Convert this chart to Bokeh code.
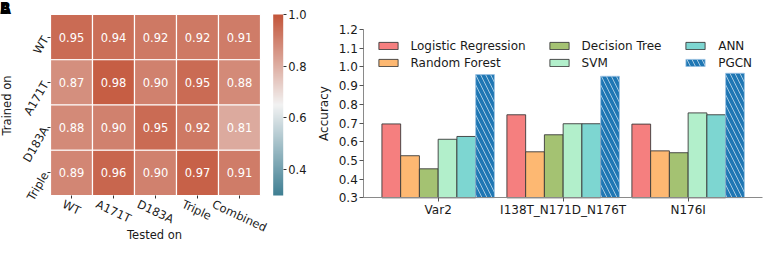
import numpy as np
from bokeh.plotting import figure
from bokeh.models import (ColumnDataSource, Range1d, LinearColorMapper, LinearAxis,
                          FixedTicker, Legend, LegendItem, Label, PrintfTickFormatter)
from bokeh.core.properties import value
from bokeh.transform import dodge, transform
from bokeh.embed import file_html
from bokeh.resources import INLINE

FONT = "DejaVu Sans"

# ---------------- data ----------------
tested_on = ["WT", "A171T", "D183A", "Triple", "Combined"]
trained_on = ["WT", "A171T", "D183A", "Triple"]
acc_wt = [0.95, 0.94, 0.92, 0.92, 0.91]
acc_a171t = [0.87, 0.98, 0.90, 0.95, 0.88]
acc_d183a = [0.88, 0.90, 0.95, 0.92, 0.81]
acc_triple = [0.89, 0.96, 0.90, 0.97, 0.91]
cbar_ticks = [0.4, 0.6, 0.8, 1.0]
cbar_low, cbar_high = 0.3, 1.0

variants = ["Var2", "I138T_N171D_N176T", "N176I"]
models = ["Logistic Regression", "Random Forest", "Decision Tree", "SVM", "ANN", "PGCN"]
lr = [0.695, 0.744, 0.694]
rf = [0.525, 0.546, 0.551]
dt = [0.455, 0.637, 0.541]
svm = [0.613, 0.696, 0.754]
ann = [0.628, 0.696, 0.744]
pgcn = [0.959, 0.950, 0.966]
y_ticks = [0.3, 0.4, 0.5, 0.6, 0.7, 0.8, 0.9, 1.0, 1.1, 1.2]

# ---------------- canvas layout (pixels inside the 764x240 frame) ----------------
W, H = 764, 240
def xr(px0, px1, v0, v1):
    k = (v1 - v0) / (px1 - px0)
    return Range1d(v0 - px0 * k, v0 + (W - px0) * k)
def yr(py0, py1, v0, v1):
    k = (v1 - v0) / (py0 - py1)
    return Range1d(v0 - (H - py0) * k, v0 + py0 * k)

HM_L, HM_R, HM_T, HM_B = 50.0, 260.0, 14.0, 195.0       # heatmap cells
CB_L, CB_R = 272.7, 282.7                               # colour bar
BAR_AX_L, BAR_AX_R, BAR_T, BAR_B = 363.3, 762.0, 29.0, 197.3
BAR_PAD = 0.595                                         # axis extends this far beyond outer groups
GROUP_STEP = (BAR_AX_R - BAR_AX_L) / (len(variants) - 1 + 2 * BAR_PAD)
GROUP0_PX = BAR_AX_L + BAR_PAD * GROUP_STEP

# DejaVu Sans advance widths (em) used to centre the rotated column labels
EM = {"W": 0.989, "T": 0.611, "A": 0.684, "1": 0.636, "7": 0.636, "8": 0.636, "3": 0.636,
      "D": 0.770, "r": 0.411, "i": 0.278, "p": 0.635, "l": 0.278, "e": 0.615, "C": 0.698,
      "o": 0.612, "m": 0.974, "b": 0.635, "n": 0.634, "d": 0.635}
LABEL_PX = 11.5
XL_ANGLE = -25 * np.pi / 180

# ---------------- colormap (diverging 220 -> 20, light centre) ----------------
def hex2rgb(h):
    return np.array([int(h[i:i + 2], 16) for i in (1, 3, 5)], dtype=float)

c_neg, c_mid, c_pos = hex2rgb("#3f7f93"), hex2rgb("#f2f2f2"), hex2rgb("#c3553a")
palette = []
for t in np.linspace(0, 1, 256):
    c = c_neg + (c_mid - c_neg) * (t / 0.5) if t <= 0.5 else c_mid + (c_pos - c_mid) * ((t - 0.5) / 0.5)
    palette.append("#%02x%02x%02x" % tuple(int(round(v)) for v in c))
mapper = LinearColorMapper(palette=palette, low=cbar_low, high=cbar_high)

ncol, nrow = len(tested_on), len(trained_on)
p = figure(width=W, height=H, output_backend="svg", toolbar_location=None,
           x_range=xr(HM_L, HM_R, 0, ncol), y_range=yr(HM_B, HM_T, 0, nrow),
           x_axis_location=None, y_axis_location=None,
           min_border_left=0, min_border_right=0, min_border_top=0, min_border_bottom=0)
p.outline_line_color = None
p.grid.visible = False
p.extra_x_ranges = {"cbx": xr(CB_L, CB_R, 0, 1),
                    "barx": xr(GROUP0_PX, GROUP0_PX + GROUP_STEP, 0, 1)}
p.extra_y_ranges = {"cby": yr(HM_B, HM_T, cbar_low, cbar_high),
                    "bary": yr(BAR_B, BAR_T, y_ticks[0], y_ticks[-1])}

def style_axis(ax, size="11.5px"):
    ax.axis_line_color = None
    ax.major_tick_line_color = "#333333"
    ax.major_tick_out = 3
    ax.major_tick_in = 0
    ax.minor_tick_line_color = None
    ax.major_label_text_font = FONT
    ax.major_label_text_font_size = size
    ax.major_label_text_color = "#1a1a1a"
    ax.major_label_standoff = 2
    ax.axis_label_text_font = FONT
    ax.axis_label_text_font_size = size
    ax.axis_label_text_font_style = "normal"
    ax.axis_label_text_color = "#1a1a1a"

# ---------------- heatmap ----------------
rows_vals = [acc_wt, acc_a171t, acc_d183a, acc_triple]
hx, hy, hv = [], [], []
for j, vals in enumerate(rows_vals):
    for i, v in enumerate(vals):
        hx.append(i + 0.5); hy.append(nrow - j - 0.5); hv.append(v)
hsrc = ColumnDataSource(dict(x=hx, y=hy, v=hv, t=["%.2f" % v for v in hv]))
p.rect(x="x", y="y", width=1, height=1, source=hsrc,
       fill_color=transform("v", mapper), line_color="white", line_width=1.2)
p.text(x="x", y="y", text="t", source=hsrc, text_color="white", text_align="center",
       text_baseline="middle", text_font_size="11.5px", text_font=value(FONT))

col_ticks = [i + 0.5 for i in range(ncol)]
row_ticks = [nrow - j - 0.5 for j in range(nrow)]
# tick marks at column centres
hx_ticks = LinearAxis(ticker=FixedTicker(ticks=col_ticks),
                      major_label_overrides={t: "" for t in col_ticks})
hx_ticks.fixed_location = 0
style_axis(hx_ticks)
p.add_layout(hx_ticks, "below")
# rotated labels, shifted so that each label is centred under its column
cell_px = (HM_R - HM_L) / ncol
lab_pos = [t - (sum(EM[ch] for ch in s) * LABEL_PX * np.cos(XL_ANGLE) / 2) / cell_px
           for t, s in zip(col_ticks, tested_on)]
hx_lab = LinearAxis(ticker=FixedTicker(ticks=lab_pos),
                    major_label_overrides={t: s for t, s in zip(lab_pos, tested_on)})
hx_lab.fixed_location = 0
style_axis(hx_lab)
hx_lab.major_tick_line_color = None
hx_lab.major_label_standoff = 5
hx_lab.major_label_orientation = XL_ANGLE
p.add_layout(hx_lab, "below")

hy_ax = LinearAxis(ticker=FixedTicker(ticks=row_ticks),
                   major_label_overrides={t: s for t, s in zip(row_ticks, trained_on)})
hy_ax.fixed_location = 0
style_axis(hy_ax)
hy_ax.major_label_orientation = 60 * np.pi / 180
p.add_layout(hy_ax, "left")

p.add_layout(Label(x=154, y=6, x_units="screen", y_units="screen", text="Tested on",
                   text_align="center", text_baseline="middle", text_font=FONT,
                   text_font_size="11.5px", text_color="#1a1a1a"))
p.add_layout(Label(x=6, y=135, x_units="screen", y_units="screen", text="Trained on",
                   angle=np.pi / 2, text_align="center", text_baseline="middle",
                   text_font=FONT, text_font_size="11.5px", text_color="#1a1a1a"))
for txt in ("B", "A"):
    p.add_layout(Label(x=-1, y=H + 1, x_units="screen", y_units="screen", text=txt,
                       text_baseline="top", text_font=FONT, text_font_size="15px",
                       text_font_style="bold", text_color="black"))

# ---------------- colour bar ----------------
grad = np.linspace(cbar_low, cbar_high, 256).reshape(256, 1)
p.image(image=[grad], x=0, y=cbar_low, dw=1, dh=cbar_high - cbar_low, color_mapper=mapper,
        x_range_name="cbx", y_range_name="cby")
cb_ax = LinearAxis(x_range_name="cbx", y_range_name="cby", ticker=FixedTicker(ticks=cbar_ticks),
                   formatter=PrintfTickFormatter(format="%.1f"))
cb_ax.fixed_location = 1
style_axis(cb_ax)
p.add_layout(cb_ax, "right")

# ---------------- bar chart ----------------
gidx = list(range(len(variants)))
bsrc = ColumnDataSource(dict(g=gidx, lr=lr, rf=rf, dt=dt, svm=svm, ann=ann, pgcn=pgcn))
cols = ["lr", "rf", "dt", "svm", "ann", "pgcn"]
colors = ["#f57f7f", "#fdb872", "#a4c272", "#b2efcb", "#7dd6d1", "#1f77b4"]
bw = 0.15
rends = []
for k, (col, color) in enumerate(zip(cols, colors)):
    off = (k - 2.5) * bw
    kw = dict(x=dodge("g", off), top=col, bottom=y_ticks[0], width=bw, source=bsrc,
              fill_color=color, x_range_name="barx", y_range_name="bary")
    if col == "pgcn":
        r = p.vbar(line_color="#9cc3e3", line_width=0.8, hatch_pattern="left_diagonal_line",
                   hatch_color="white", hatch_alpha=0.75, hatch_scale=10, hatch_weight=0.8, **kw)
    else:
        r = p.vbar(line_color="#3a3a3a", line_width=0.9, **kw)
    rends.append(r)

by_ax = LinearAxis(x_range_name="barx", y_range_name="bary", ticker=FixedTicker(ticks=y_ticks),
                   formatter=PrintfTickFormatter(format="%.1f"))
by_ax.fixed_location = -BAR_PAD
by_ax.bounds = (y_ticks[0], y_ticks[-1])
style_axis(by_ax, "12px")
by_ax.axis_line_color = "#8a8a8a"
by_ax.major_tick_line_color = "#555555"
by_ax.major_tick_out = 4
by_ax.axis_label = "Accuracy"
by_ax.axis_label_standoff = 4
p.add_layout(by_ax, "left")

bx_ax = LinearAxis(x_range_name="barx", y_range_name="bary", ticker=FixedTicker(ticks=gidx),
                   major_label_overrides={g: s for g, s in zip(gidx, variants)})
bx_ax.fixed_location = y_ticks[0]
bx_ax.bounds = (-BAR_PAD, len(variants) - 1 + BAR_PAD)
style_axis(bx_ax, "12px")
bx_ax.axis_line_color = "#8a8a8a"
bx_ax.major_tick_line_color = "#555555"
bx_ax.major_tick_out = 4
bx_ax.major_label_standoff = 1
p.add_layout(bx_ax, "below")

col_x = [375.5, 546.6, 683.2]
for ci in range(3):
    items = [LegendItem(label=models[2 * ci + j], renderers=[rends[2 * ci + j]]) for j in range(2)]
    lg = Legend(items=items, location=(col_x[ci], 169), orientation="vertical",
                padding=0, margin=0, spacing=0, glyph_width=24, glyph_height=9,
                label_height=17, label_standoff=11, label_text_font=FONT,
                label_text_font_size="12px", label_text_color="#1a1a1a",
                border_line_color=None, background_fill_alpha=0)
    p.add_layout(lg, "center")

open("out.html", "w").write(file_html(p, INLINE))
